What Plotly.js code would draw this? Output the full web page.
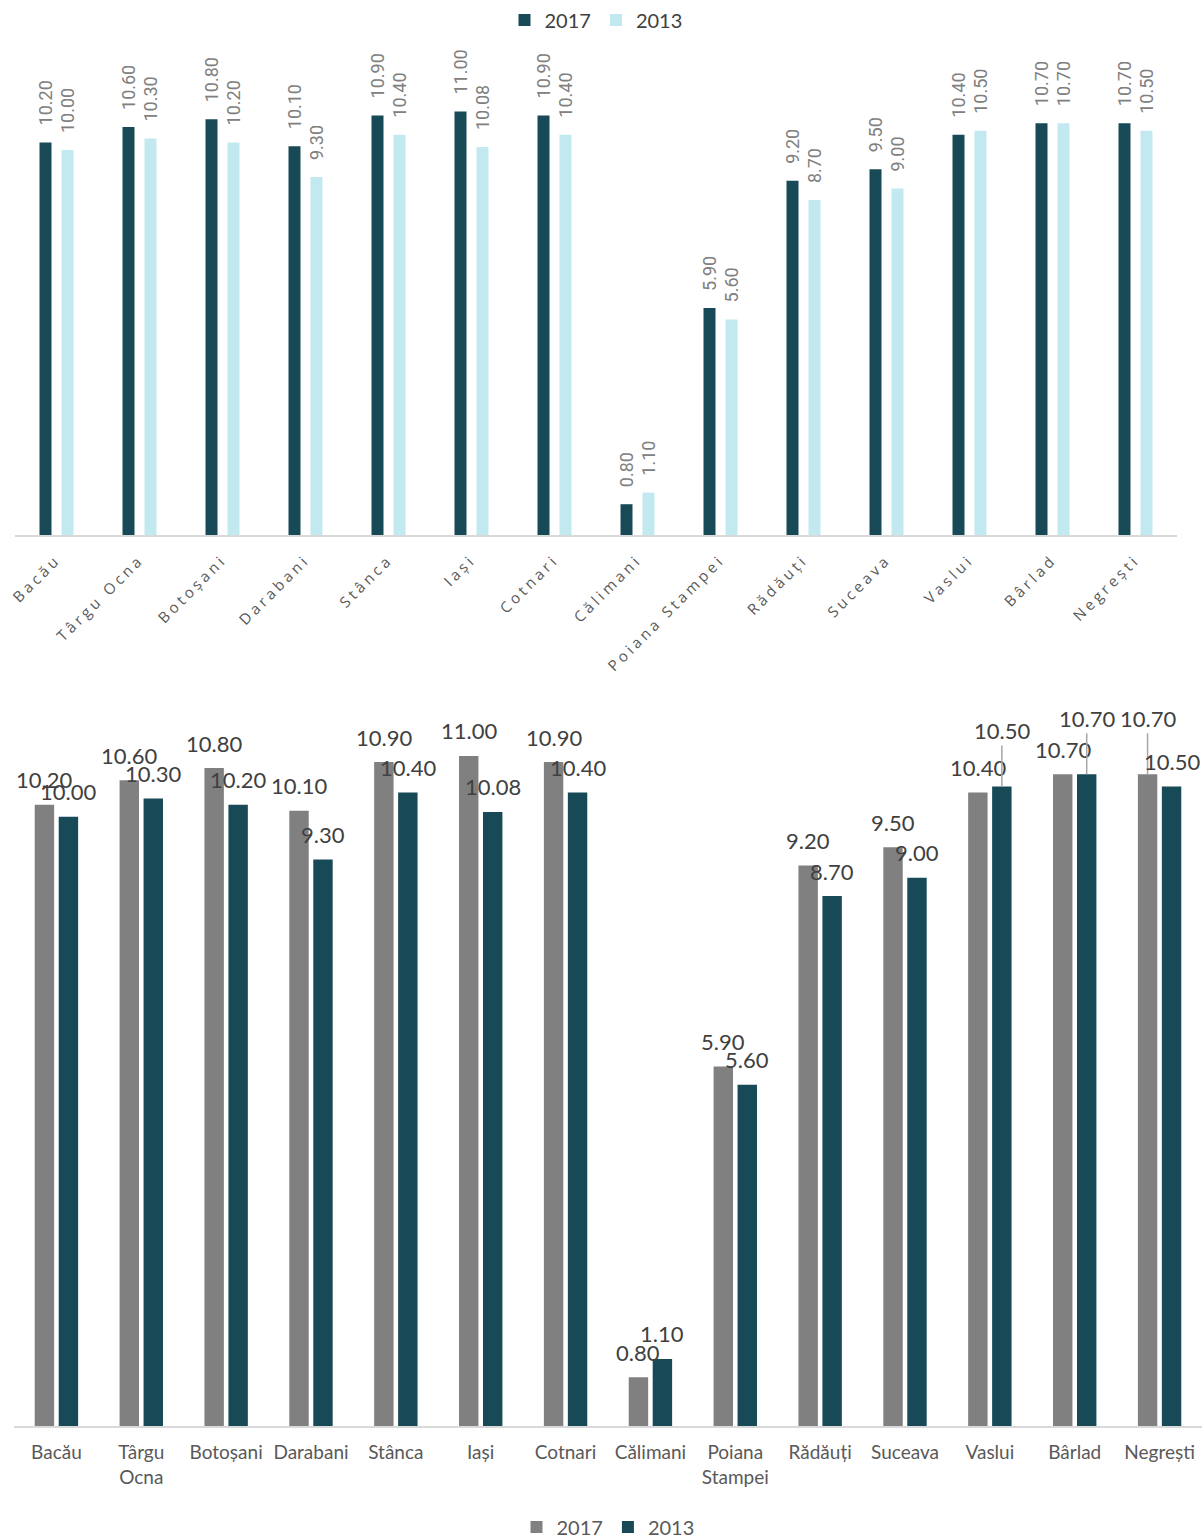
<!DOCTYPE html>
<html>
<head>
<meta charset="utf-8">
<script src="https://cdn.plot.ly/plotly-3.0.1.min.js"></script>
<style>
  html, body { margin: 0; padding: 0; background: #fff; }
  #top { width: 1204px; height: 680px; }
  #bottom { width: 1204px; height: 858px; }
</style>
</head>
<body>
<div id="top"></div>
<div id="bottom"></div>
<script>
// ---- data ----
const categories = ["Bacău", "Târgu Ocna", "Botoșani", "Darabani", "Stânca", "Iași", "Cotnari",
  "Călimani", "Poiana Stampei", "Rădăuți", "Suceava", "Vaslui", "Bârlad", "Negrești"];
const bottomTickLabels = ["Bacău", "Târgu<br>Ocna", "Botoșani", "Darabani", "Stânca", "Iași", "Cotnari",
  "Călimani", "Poiana<br>Stampei", "Rădăuți", "Suceava", "Vaslui", "Bârlad", "Negrești"];
const values2017 = [10.20, 10.60, 10.80, 10.10, 10.90, 11.00, 10.90, 0.80, 5.90, 9.20, 9.50, 10.40, 10.70, 10.70];
const values2013 = [10.00, 10.30, 10.20, 9.30, 10.40, 10.08, 10.40, 1.10, 5.60, 8.70, 9.00, 10.50, 10.70, 10.50];
const seriesNames = ["2017", "2013"];
// labels that the original placed higher with a leader line: [seriesIndex, categoryIndex]
const leaderLabels = [[1, 11], [1, 12], [0, 13]];

// ---- styles ----
const DARK = "#174A56";
const LIGHT = "#C2E8F0";
const GRAY = "#808080";

// ================= TOP CHART =================
const topTraces = [
  { type: "bar", name: seriesNames[0], x: categories, y: values2017, marker: { color: DARK }, hoverinfo: "none" },
  { type: "bar", name: seriesNames[1], x: categories, y: values2013, marker: { color: LIGHT }, hoverinfo: "none" }
];
const topAnn = [];
[values2017, values2013].forEach((vals, s) => {
  vals.forEach((v, i) => {
    topAnn.push({
      x: categories[i], y: v, xref: "x", yref: "y",
      text: v.toFixed(2), showarrow: false, textangle: -90,
      xshift: s === 0 ? -11 : 11, yshift: 15, yanchor: "bottom", xanchor: "center",
      font: { family: "Roboto, sans-serif", size: 18, color: "#808080" }
    });
  });
});
const topLayout = {
  width: 1204, height: 680,
  margin: { l: 15, r: 27, t: 50, b: 145, autoexpand: false },
  paper_bgcolor: "#fff", plot_bgcolor: "#fff",
  barmode: "group", bargap: 0.47, bargroupgap: 0.455,
  showlegend: true,
  legend: {
    orientation: "h", x: 0.5, xanchor: "center", y: 1.062, yanchor: "middle",
    font: { family: "Lato, sans-serif", size: 20, color: "#404040" }, traceorder: "normal"
  },
  xaxis: {
    type: "category", showline: true, linecolor: "#d9d9d9", linewidth: 2,
    ticks: "", tickangle: -45, automargin: false, ticklabelstandoff: 8,
    tickfont: { family: "Open Sans, sans-serif", size: 15, color: "#595959" }
  },
  yaxis: { range: [0, 12.6], visible: false, showgrid: false, zeroline: false, fixedrange: true },
  annotations: topAnn
};

// ================= BOTTOM CHART =================
const botTraces = [
  { type: "bar", name: seriesNames[0], x: categories, y: values2017, marker: { color: GRAY }, hoverinfo: "none" },
  { type: "bar", name: seriesNames[1], x: categories, y: values2013, marker: { color: DARK }, hoverinfo: "none" }
];
const botAnn = [];
[values2017, values2013].forEach((vals, s) => {
  vals.forEach((v, i) => {
    const lead = leaderLabels.some(p => p[0] === s && p[1] === i);
    const a = {
      x: categories[i], y: v, xref: "x", yref: "y",
      text: v.toFixed(2),
      xshift: s === 0 ? -12 : 12,
      font: { family: "Lato, sans-serif", size: 22, color: "#404040" }
    };
    if (lead) {
      Object.assign(a, { showarrow: true, arrowhead: 0, arrowwidth: 1.5, arrowcolor: "#a6a6a6",
        ax: 0, ay: -56, standoff: 0, xanchor: "center", yanchor: "middle" });
    } else {
      Object.assign(a, { showarrow: false, yshift: 25, xanchor: "center", yanchor: "middle" });
    }
    botAnn.push(a);
  });
});
const botLayout = {
  width: 1204, height: 858,
  margin: { l: 14, r: 2, t: 15, b: 112, autoexpand: false },
  paper_bgcolor: "#fff", plot_bgcolor: "#fff",
  barmode: "group", bargap: 0.435, bargroupgap: 0.19,
  showlegend: true,
  legend: {
    orientation: "h", x: 0.5, xanchor: "center", y: -0.138, yanchor: "middle",
    font: { family: "Lato, sans-serif", size: 20, color: "#595959" }, traceorder: "normal"
  },
  xaxis: {
    type: "category", showline: true, linecolor: "#d9d9d9", linewidth: 2,
    ticks: "", tickangle: 0, automargin: false, ticklabelstandoff: 8,
    tickvals: categories, ticktext: bottomTickLabels,
    tickfont: { family: "Lato, sans-serif", size: 19, color: "#595959" }
  },
  yaxis: { range: [0, 12], visible: false, showgrid: false, zeroline: false, fixedrange: true },
  annotations: botAnn
};

const cfg = { staticPlot: true, displayModeBar: false };
Plotly.newPlot("top", topTraces, topLayout, cfg).then(() => {
  document.querySelectorAll("#top .xtick text").forEach(t => { t.style.letterSpacing = "3.5px"; });
});
Plotly.newPlot("bottom", botTraces, botLayout, cfg);
</script>
</body>
</html>
